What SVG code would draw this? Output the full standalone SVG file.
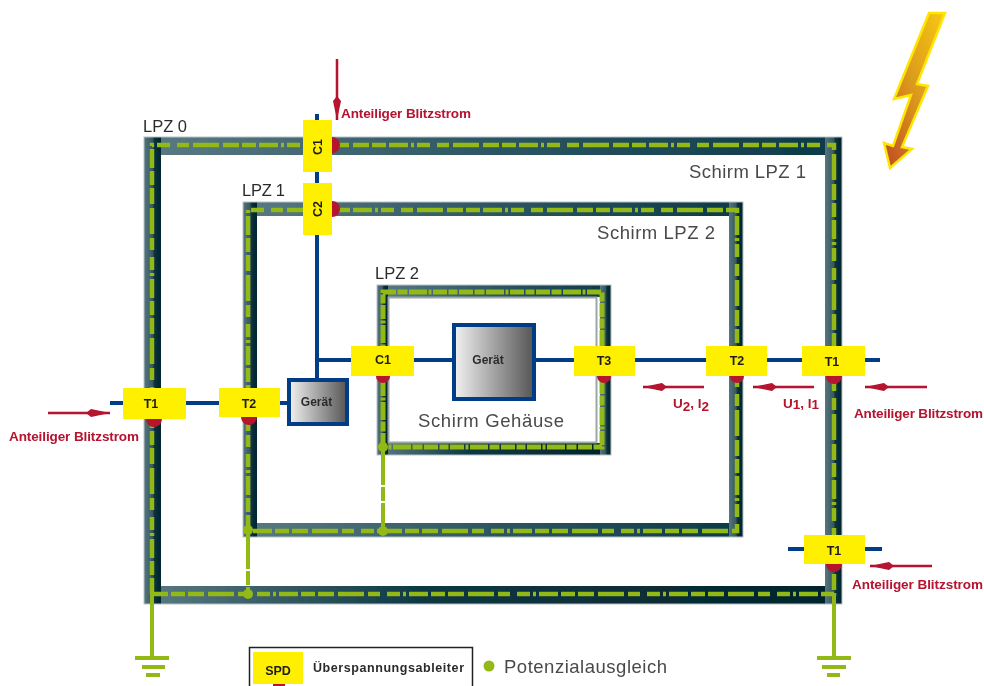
<svg xmlns="http://www.w3.org/2000/svg" width="984" height="686" viewBox="0 0 984 686">
<defs>
<linearGradient id="band" x1="0" y1="0" x2="1" y2="0"><stop offset="0" stop-color="#5a7a83"/><stop offset="0.5" stop-color="#2c5662"/><stop offset="1" stop-color="#0c3a47"/></linearGradient>
<linearGradient id="bandDark" x1="0" y1="0" x2="1" y2="0"><stop offset="0" stop-color="#5a7a83"/><stop offset="0.4" stop-color="#0d3843"/><stop offset="1" stop-color="#03232c"/></linearGradient>
<linearGradient id="side" x1="0" y1="0" x2="1" y2="0"><stop offset="0" stop-color="#557680"/><stop offset="0.5" stop-color="#36595f"/><stop offset="0.62" stop-color="#08303b"/><stop offset="1" stop-color="#04262f"/></linearGradient>
<linearGradient id="dev" x1="0" y1="0" x2="1" y2="0"><stop offset="0" stop-color="#f2f2f2"/><stop offset="1" stop-color="#555"/></linearGradient>
<linearGradient id="bolt" x1="1" y1="0" x2="0" y2="1"><stop offset="0" stop-color="#f7c815"/><stop offset="0.5" stop-color="#dc9a1c"/><stop offset="1" stop-color="#bd4a24"/></linearGradient>
<filter id="soft" x="-2%" y="-2%" width="104%" height="104%"><feGaussianBlur stdDeviation="0.7"/></filter>
<marker id="ah" markerUnits="userSpaceOnUse" markerWidth="26" markerHeight="10" refX="24" refY="5" orient="auto"><path d="M0 5 L5 1 L24 5 L5 9Z" fill="#b5122f"/></marker>
</defs>
<style>
.hb{fill:url(#band)}
.hd{fill:url(#bandDark)}
.vb{fill:url(#side)}
.edge{fill:none;stroke:#b9c2c5;stroke-width:1}
.eq{fill:none;stroke:#93b915;stroke-width:4.500;stroke-dasharray:16 3 14 3 19 3 3 3 13 7 12 4 26 4}
.eqt{fill:none;stroke:#93b915;stroke-width:5;stroke-dasharray:14 1.5 10 1.5 18 1.5 3 1.5 14 1.5 9 1.5}
.bond{fill:none;stroke:#93b915;stroke-width:4;stroke-dasharray:38 2 14 2}
.solid{fill:none;stroke:#93b915;stroke-width:4}
.dot{fill:#93b915}
.wire{fill:none;stroke:#023e86;stroke-width:4}
.flow{fill:none;stroke:#b5122f;stroke-width:2.500;marker-end:url(#ah)}
.spd{fill:#fff000}
.tab{fill:#b5122f}
.dev{fill:url(#dev);stroke:#023e86;stroke-width:4}
text{font-family:"Liberation Sans",Arial,sans-serif}
.lab{font-size:12.500px;font-weight:700;fill:#1d1d1b;text-anchor:middle}
.dname{font-size:12px;font-weight:700;fill:#2c2c2c;text-anchor:middle}
.zone{font-size:16.500px;fill:#2b2b2b}
.red{font-size:13.500px;font-weight:700;fill:#b5122f}
.gray{font-size:18.500px;fill:#4a4a4a}
</style>
<rect width="984" height="686" fill="#fff"/>
<g filter="url(#soft)">
<g id="frame-lpz0">
<rect class="hb" x="144" y="137" width="698" height="18"/>
<rect class="hd" x="144" y="586" width="698" height="18"/>
<rect class="vb" x="144" y="137" width="17" height="467"/>
<rect class="vb" x="825" y="137" width="17" height="467"/>
<rect class="edge" x="144" y="137" width="698" height="467"/>
<text class="zone" x="143" y="132" textLength="44">LPZ 0</text>
<text class="gray" x="689" y="178" textLength="117">Schirm LPZ 1</text>
</g>
<g id="frame-lpz1">
<rect class="hb" x="243" y="202" width="500" height="14"/>
<rect class="hb" x="243" y="523" width="500" height="14"/>
<rect class="vb" x="243" y="202" width="14" height="335"/>
<rect class="vb" x="729" y="202" width="14" height="335"/>
<rect class="edge" x="243" y="202" width="500" height="335"/>
<text class="zone" x="242" y="196" textLength="43">LPZ 1</text>
<text class="gray" x="597" y="239" textLength="118">Schirm LPZ 2</text>
</g>
<g id="frame-lpz2">
<rect class="hb" x="377" y="285" width="234" height="12"/>
<rect class="hd" x="377" y="443" width="234" height="12"/>
<rect class="vb" x="377" y="285" width="11" height="170"/>
<rect class="vb" x="600" y="285" width="11" height="170"/>
<rect class="edge" x="377" y="285" width="234" height="170"/>
<rect x="388.500" y="297.500" width="208" height="145" fill="none" stroke="#9aa6aa" stroke-width="2"/>
<text class="zone" x="375" y="279" textLength="44">LPZ 2</text>
<text class="gray" x="418" y="427" textLength="146">Schirm Gehäuse</text>
</g>
<g id="connectors">
<path class="eq" d="M152 594V145H834V594H152"/>
<path class="eq" d="M248 531V210H737V531H248"/>
<path class="eqt" d="M383 447V292H602V447H383"/>
<path class="bond" d="M248 531V594"/>
<path class="bond" d="M383 447V531"/>
<path class="bond" d="M152 594V640"/>
<path class="solid" d="M152 618V658"/>
<path class="bond" d="M834 594V640"/>
<path class="solid" d="M834 615V658"/>
<circle class="dot" cx="248" cy="530" r="5"/>
<circle class="dot" cx="248" cy="594" r="5"/>
<circle class="dot" cx="383" cy="447" r="5"/>
<circle class="dot" cx="383" cy="531" r="5"/>
<path class="wire" d="M317 114V378"/>
<path class="wire" d="M317 360H351"/>
<path class="wire" d="M414 360H880"/>
<path class="wire" d="M110 403H287"/>
<path class="wire" d="M788 549H882"/>
<path class="flow" d="M337 59V120"/>
<path class="flow" d="M48 413H110"/>
<path class="flow" d="M704 387H643"/>
<path class="flow" d="M814 387H753"/>
<path class="flow" d="M927 387H865"/>
<path class="flow" d="M932 566H870"/>
</g>
<g id="ground-left"><rect class="dot" x="135" y="656" width="34" height="4"/><rect class="dot" x="142" y="665" width="23" height="4"/><rect class="dot" x="146" y="673" width="14" height="4"/></g>
<g id="ground-right"><rect class="dot" x="817" y="656" width="34" height="4"/><rect class="dot" x="822" y="665" width="24" height="4"/><rect class="dot" x="827" y="673" width="13" height="4"/></g>
<g id="spd-c1-top"><path class="tab" d="M332 137a8 8 0 0 1 0 16Z"/><rect class="spd" x="303" y="120" width="29" height="52"/><text class="lab" transform="translate(321.500 147) rotate(-90)">C1</text></g>
<g id="spd-c2-top"><path class="tab" d="M332 201a8 8 0 0 1 0 16Z"/><rect class="spd" x="303" y="183" width="29" height="52"/><text class="lab" transform="translate(321.500 209) rotate(-90)">C2</text></g>
<g id="spd-t1-left"><path class="tab" d="M146 419a8 8 0 0 0 16 0Z"/><rect class="spd" x="123" y="388" width="63" height="31"/><text class="lab" x="151" y="408">T1</text></g>
<g id="spd-t2-left"><path class="tab" d="M241 417a8 8 0 0 0 16 0Z"/><rect class="spd" x="219" y="388" width="61" height="29"/><text class="lab" x="249" y="408">T2</text></g>
<g id="spd-c1"><path class="tab" d="M376 376a7 7 0 0 0 14 0Z"/><rect class="spd" x="351" y="346" width="63" height="30"/><text class="lab" x="383" y="364">C1</text></g>
<g id="spd-t3"><path class="tab" d="M597 376a7 7 0 0 0 14 0Z"/><rect class="spd" x="574" y="346" width="61" height="30"/><text class="lab" x="604" y="365">T3</text></g>
<g id="spd-t2-right"><path class="tab" d="M730 376a7 7 0 0 0 14 0Z"/><rect class="spd" x="706" y="346" width="61" height="30"/><text class="lab" x="737" y="365">T2</text></g>
<g id="spd-t1-right"><path class="tab" d="M826 376a8 8 0 0 0 16 0Z"/><rect class="spd" x="802" y="346" width="63" height="30"/><text class="lab" x="832" y="366">T1</text></g>
<g id="spd-t1-lower"><path class="tab" d="M826 564a8 8 0 0 0 16 0Z"/><rect class="spd" x="804" y="535" width="61" height="29"/><text class="lab" x="834" y="555">T1</text></g>
<g id="device-small"><rect class="dev" x="289" y="380" width="58" height="44"/><text class="dname" x="316.500" y="406">Gerät</text></g>
<g id="device-main"><rect class="dev" x="454" y="325" width="80" height="74"/><text class="dname" x="488" y="364">Gerät</text></g>
<g id="label-blitz-top"><text class="red" x="341" y="118" textLength="130">Anteiliger Blitzstrom</text></g>
<g id="label-blitz-left"><text class="red" x="9" y="441" textLength="130">Anteiliger Blitzstrom</text></g>
<g id="label-blitz-right"><text class="red" x="854" y="418" textLength="129">Anteiliger Blitzstrom</text></g>
<g id="label-blitz-lower"><text class="red" x="852" y="589" textLength="131">Anteiliger Blitzstrom</text></g>
<g id="label-u2"><text class="red" x="673" y="408">U<tspan dy="3">2</tspan><tspan dy="-3">, I</tspan><tspan dy="3">2</tspan></text></g>
<g id="label-u1"><text class="red" x="783" y="408">U<tspan dy="1">1</tspan><tspan dy="-1">, I</tspan><tspan dy="1">1</tspan></text></g>
<g id="lightning"><path d="M929 13H945L917 84L928 86L902 147L912 149L890 168L884 143L893 146L911 95L894 99Z" fill="url(#bolt)" stroke="#ffe600" stroke-width="2.500" stroke-linejoin="miter"/></g>
<g id="legend">
<path d="M249.500 686V647.500H472.500V686" fill="none" stroke="#222" stroke-width="1.500"/>
<path class="tab" d="M273 684h12v3h-12Z"/>
<rect class="spd" x="253" y="652" width="50" height="32"/>
<text class="lab" x="278" y="675">SPD</text>
<text x="313" y="672" font-size="12.500" font-weight="700" fill="#2b2b2b" textLength="151">Überspannungsableiter</text>
<circle class="dot" cx="489" cy="666" r="5.500"/>
<text class="gray" x="504" y="673" textLength="163">Potenzialausgleich</text>
</g>
</g>
</svg>
